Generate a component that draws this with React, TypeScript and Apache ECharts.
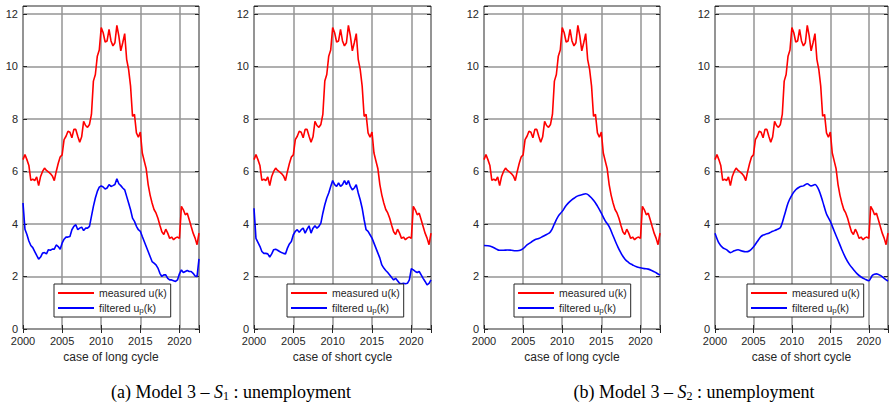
import React, { useEffect, useRef } from 'react';
import * as echarts from 'echarts';

// sample times (quarterly / half-yearly)
const quarterYears: number[] = Array.from({ length: 91 }, (_, i) => 2000 + i * 0.25);
const halfYears: number[] = Array.from({ length: 46 }, (_, i) => 2000 + i * 0.5);

// measured unemployment u(k), same in all four panels
const measured = [
  6.45, 6.64, 6.45, 6.23, 5.66, 5.71, 5.65, 5.79, 5.46, 5.81,
  6.0, 6.13, 6.04, 5.98, 5.92, 5.83, 5.65, 6.0, 6.3, 6.55,
  6.63, 7.21, 7.34, 7.53, 7.49, 7.28, 7.6, 7.6, 7.34, 7.11,
  7.32, 7.91, 7.75, 7.68, 7.79, 8.17, 9.44, 9.69, 10.39, 10.62,
  11.48, 11.28, 10.93, 10.97, 11.41, 10.97, 10.78, 10.9, 11.56, 11.16,
  10.59, 10.9, 11.25, 10.27, 9.89, 9.25, 8.1, 8.17, 7.47, 7.3,
  7.5, 6.7, 6.4, 6.1, 5.5, 5.1, 4.8, 4.55, 4.42, 4.22,
  3.95, 3.7, 3.6, 3.8, 3.65, 3.45, 3.5, 3.4, 3.47, 3.5,
  3.45, 4.67, 4.54, 4.35, 4.41, 4.16, 3.9, 3.65, 3.46, 3.21,
  3.65,
];

// filtered u_p(k): model S1, long cycle (quarterly)
const filteredS1Long = [
  4.8, 3.8, 3.6, 3.35, 3.18, 3.1, 2.95, 2.8, 2.66, 2.74,
  2.89, 2.91, 2.86, 3.02, 3.0, 3.04, 3.04, 3.2, 3.14, 3.04,
  3.27, 3.42, 3.5, 3.5, 3.52, 3.78, 3.91, 3.97, 3.78, 3.84,
  3.88, 3.75, 3.84, 3.84, 3.91, 4.29, 4.67, 4.99, 5.24, 5.4,
  5.45, 5.41, 5.33, 5.37, 5.5, 5.43, 5.46, 5.5, 5.72, 5.53,
  5.46, 5.37, 5.3, 5.05, 4.8, 4.54, 4.22, 4.1, 3.91, 3.78,
  3.72, 3.52, 3.33, 3.14, 2.95, 2.76, 2.57, 2.51, 2.44, 2.32,
  2.12, 2.0, 2.06, 2.06, 1.93, 1.87, 1.87, 1.84, 1.81, 1.87,
  2.1, 2.25, 2.15, 2.19, 2.23, 2.19, 2.19, 2.12, 2.02, 2.0,
  2.67,
];

// filtered u_p(k): model S1, short cycle (quarterly)
const filteredS1Short = [
  4.6, 3.45, 3.3, 3.15, 2.95, 2.88, 2.88, 2.86, 2.74, 2.86,
  3.02, 3.04, 3.0, 2.95, 2.91, 2.88, 2.86, 3.08, 3.24, 3.33,
  3.59, 3.72, 3.78, 3.68, 3.78, 3.84, 3.65, 3.8, 3.93, 3.65,
  3.84, 3.93, 3.84, 3.91, 4.03, 4.41, 4.73, 4.99, 5.18, 5.43,
  5.65, 5.5, 5.43, 5.56, 5.43, 5.5, 5.65, 5.5, 5.65, 5.43,
  5.3, 5.37, 5.5, 5.18, 4.92, 4.6, 4.16, 3.78, 3.72, 3.59,
  3.46, 3.27, 3.08, 2.89, 2.7, 2.44, 2.32, 2.23, 2.15, 2.06,
  1.96, 1.87, 1.93, 1.84, 1.74, 1.72, 1.74, 1.72, 1.74, 1.87,
  2.3, 2.25, 2.19, 2.15, 2.19, 2.06, 1.93, 1.81, 1.68, 1.74,
  1.87,
];

// filtered u_p(k): model S2, long cycle (half-yearly)
const filteredS2Long = [
  3.18, 3.17, 3.13, 3.06, 3.0, 3.0, 3.01, 3.0, 2.98, 2.99,
  3.06, 3.2, 3.3, 3.4, 3.45, 3.52, 3.6, 3.7, 4.0, 4.3,
  4.48, 4.7, 4.86, 4.98, 5.07, 5.11, 5.15, 5.06, 4.9, 4.68,
  4.41, 4.12, 3.9, 3.55, 3.2, 2.9, 2.67, 2.53, 2.44, 2.37,
  2.33, 2.3, 2.28, 2.22, 2.14, 2.05,
];

// filtered u_p(k): model S2, short cycle (half-yearly)
const filteredS2Short = [
  3.65, 3.28, 3.1, 3.02, 2.91, 2.98, 3.02, 2.97, 2.94, 2.98,
  3.12, 3.33, 3.53, 3.6, 3.65, 3.72, 3.78, 3.86, 4.3, 4.8,
  5.1, 5.3, 5.41, 5.45, 5.53, 5.45, 5.5, 5.3, 4.86, 4.38,
  4.1, 3.73, 3.38, 3.02, 2.7, 2.45, 2.27, 2.1, 1.98, 1.9,
  1.84, 2.05, 2.1, 2.04, 1.93, 1.82,
];

const xTickLabels = [2000, 2005, 2010, 2015, 2020];
const yTickLabels = [0, 2, 4, 6, 8, 10, 12];
const panelNames = ['case of long cycle', 'case of short cycle', 'case of long cycle', 'case of short cycle'];
const legendNames = ['measured u(k)', 'filtered up(k)'];
const captions = ['(a) Model 3 \u2013 {cal|S}{sub|1} : unemployment', '(b) Model 3 \u2013 {cal|S}{sub|2} : unemployment'];

const SANS = '"Liberation Sans", Arial, Helvetica, sans-serif';
const SERIF = '"Liberation Serif", "Times New Roman", serif';
const INK = '#262626';

export default function App() {
  const ref = useRef<HTMLDivElement>(null);

  useEffect(() => {
    if (!ref.current) return;
    const chart = echarts.init(ref.current, undefined, { renderer: 'svg' });

    const grids = [
      { left: 23, width: 176 },
      { left: 254, width: 177 },
      { left: 484, width: 176 },
      { left: 715, width: 177 },
    ];
    const legendLefts = [54, 287, 514, 747];
    const filteredSets = [
      { x: quarterYears, y: filteredS1Long, smooth: false },
      { x: quarterYears, y: filteredS1Short, smooth: false },
      { x: halfYears, y: filteredS2Long, smooth: true },
      { x: halfYears, y: filteredS2Short, smooth: 0.3 },
    ];

    const xMin = xTickLabels[0];
    const xMax = 2022.5;
    const yMax = 12.3;

    const xAxes: any[] = [];
    const yAxes: any[] = [];
    grids.forEach((_, i) => {
      xAxes.push({
        type: 'value', gridIndex: i, min: xMin, max: xMax, interval: 5,
        axisLine: { show: false },
        axisTick: { show: true, inside: true, length: 4, lineStyle: { color: INK } },
        axisLabel: {
          margin: 6, fontSize: 11, color: INK, fontFamily: SANS,
          formatter: (v: number) => (xTickLabels.includes(v) ? String(v) : ''),
        },
        splitLine: { show: true, lineStyle: { color: '#959595', width: 1.5 } },
        name: panelNames[i], nameLocation: 'middle', nameGap: 21,
        nameTextStyle: { fontSize: 12, color: INK, fontFamily: SANS },
      });
      xAxes.push({
        type: 'value', gridIndex: i, min: xMin, max: xMax, interval: 5, position: 'top',
        axisLine: { show: false },
        axisTick: { show: true, inside: true, length: 4, lineStyle: { color: INK } },
        axisLabel: { show: false }, splitLine: { show: false },
      });
      yAxes.push({
        type: 'value', gridIndex: i, min: 0, max: yMax, interval: 2,
        axisLine: { show: false },
        axisTick: { show: true, inside: true, length: 4, lineStyle: { color: INK } },
        axisLabel: {
          margin: 5, fontSize: 11, color: INK, fontFamily: SANS,
          formatter: (v: number) => (yTickLabels.includes(v) ? String(v) : ''),
        },
        splitLine: { show: true, lineStyle: { color: '#959595', width: 1.5 } },
      });
      yAxes.push({
        type: 'value', gridIndex: i, min: 0, max: yMax, interval: 2, position: 'right',
        axisLine: { show: false },
        axisTick: { show: true, inside: true, length: 4, lineStyle: { color: INK } },
        axisLabel: { show: false }, splitLine: { show: false },
      });
    });

    const series: any[] = [];
    grids.forEach((_, i) => {
      series.push({
        type: 'line', name: legendNames[0], xAxisIndex: i * 2, yAxisIndex: i * 2,
        data: quarterYears.map((x, k) => [x, measured[k]]),
        symbol: 'none', lineStyle: { color: '#ff0000', width: 1.6 }, itemStyle: { color: '#ff0000' },
        z: 3,
      });
      const f = filteredSets[i];
      series.push({
        type: 'line', name: legendNames[1], xAxisIndex: i * 2, yAxisIndex: i * 2,
        data: f.x.map((x, k) => [x, f.y[k]]),
        smooth: f.smooth,
        symbol: 'none', lineStyle: { color: '#0000ff', width: 1.6 }, itemStyle: { color: '#0000ff' },
        z: 3,
      });
    });

    const legends = grids.map((_, i) => ({
      left: legendLefts[i], top: 284, orient: 'vertical',
      icon: 'rect',
      itemWidth: 36, itemHeight: 2, itemGap: 2,
      padding: [3, 4, 3, 4],
      borderColor: INK, borderWidth: 1, borderRadius: 0, backgroundColor: '#ffffff',
      selectedMode: false,
      data: legendNames,
      z: 10,
      formatter: (name: string) => (name.startsWith('filtered') ? 'filtered u{sub|p}(k)' : name),
      textStyle: {
        fontSize: 10.5, color: INK, fontFamily: SANS, lineHeight: 12,
        rich: { sub: { fontSize: 8, verticalAlign: 'bottom', lineHeight: 12, padding: [5, 0, 0, 0], fontFamily: SANS, color: INK } },
      },
    }));

    const captionCenters = [231, 694];
    const graphic = captions.map((c, i) => ({
      type: 'text', x: captionCenters[i], y: 392,
      style: {
        text: c, textAlign: 'center', textVerticalAlign: 'middle',
        fontFamily: SERIF, fontSize: 18, fill: '#000',
        rich: {
          cal: { fontFamily: SERIF, fontStyle: 'italic', fontSize: 18, fill: '#000' },
          sub: { fontFamily: SERIF, fontSize: 12, verticalAlign: 'bottom', padding: [8, 0, 0, 0], fill: '#000' },
        },
      },
    }));

    chart.setOption({
      animation: false,
      backgroundColor: '#ffffff',
      grid: grids.map((g) => ({
        left: g.left, width: g.width, top: 6, height: 323,
        show: true, borderColor: INK, borderWidth: 1, backgroundColor: 'transparent',
      })),
      xAxis: xAxes,
      yAxis: yAxes,
      legend: legends,
      series,
      graphic,
    });

    return () => chart.dispose();
  }, []);

  return <div ref={ref} style={{ position: 'absolute', left: 0, top: 0, width: 891, height: 405 }} />;
}
